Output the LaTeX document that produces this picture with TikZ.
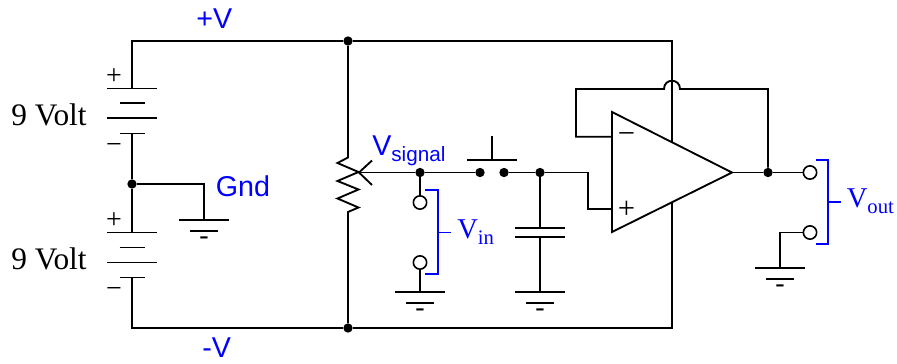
\documentclass[tikz,border=0pt]{standalone}
\usepackage{fontspec}
\setmainfont{Liberation Serif}
\newfontfamily\sansfam{Liberation Sans}
\usetikzlibrary{calc}
\definecolor{labelblue}{RGB}{0,0,255}
\newcommand{\lowtext}[1]{\raisebox{-5.2pt}{\fontsize{15.5}{15.5}\selectfont #1}}
\tikzset{
	wire/.style={draw, line width=1.4pt},
	bluewire/.style={draw=labelblue, line width=1.4pt},
	junction/.style={circle, fill=black, inner sep=0pt, minimum size=7pt},
	terminal/.style={circle, draw, line width=1.2pt, fill=white, inner sep=0pt, minimum size=10pt},
	polarity/.style={inner sep=0pt, font=\fontsize{21}{21}\selectfont},
	bluesans/.style={anchor=base west, inner sep=0pt, text=labelblue, font=\sansfam\fontsize{21.5}{21.5}\selectfont},
	blueserif/.style={anchor=base west, inner sep=0pt, text=labelblue, font=\fontsize{21.5}{21.5}\selectfont},
	voltlabel/.style={anchor=base, inner sep=0pt, font=\fontsize{23.5}{23.5}\selectfont}
}

\begin{document}
\begin{tikzpicture}[x=0.75pt, y=-0.75pt]
		\useasboundingbox (0,0) rectangle (897,364);
		% junctions and terminals
		\node[junction] (topJ) at (348,41) {};
		\node[junction] (botJ) at (348,328) {};
		\node[junction] (midJ) at (132,184) {};
		\node[junction] (wipJ) at (420,172.5) {};
		\node[junction] (swL) at (480,172.5) {};
		\node[junction] (swR) at (504,172.5) {};
		\node[junction] (capJ) at (540,172.5) {};
		\node[junction] (outJ) at (768,172.5) {};
		\node[terminal] (inA) at (420,202.5) {};
		\node[terminal] (inB) at (420,262.5) {};
		\node[terminal] (outA) at (810,172.5) {};
		\node[terminal] (outB) at (810,232.5) {};
		% grounds
		\foreach \n/\x/\y in {1/204/220, 2/420/292, 3/540/292, 4/780/268}{
			\coordinate (gnd\n) at (\x,\y);
			\draw[wire] (\x-25,\y) -- (\x+25,\y);
			\draw[wire] (\x-14,\y+11) -- (\x+14,\y+11);
			\node[polarity] (mark\n) at (\x,\y+21) {-};
		}
		% batteries
		\foreach \y/\w in {88.5/25, 103/12.5, 118/25, 133.5/12.5, 232.5/25, 247.5/12.5, 262.5/25, 277.5/12.5}{
			\draw[wire] (132-\w,\y) -- (132+\w,\y);
		}
		\coordinate (batAtop) at (132,88.5);
		\coordinate (batAbot) at (132,133.5);
		\coordinate (batBtop) at (132,232.5);
		\coordinate (batBbot) at (132,277.5);
		\node[polarity] (plusA) at (114,77) {+};
		\node[polarity] (minusA) at (114,148.5) {−};
		\node[polarity] (plusB) at (114,220.5) {+};
		\node[polarity] (minusB) at (114,292.5) {−};
		% supply rails
		\coordinate (railEndTop) at (672,41);
		\coordinate (railEndBot) at (672,328);
		\coordinate (opTop) at (672,142);
		\coordinate (opBot) at (672,202);
		\draw[wire] (batAtop) |- (topJ) -- (railEndTop) -- (opTop);
		\draw[wire] (batBbot) |- (botJ) -- (railEndBot) -- (opBot);
		\draw[wire] (batAbot) -- (midJ) -- (batBtop);
		\draw[wire] (midJ) -| (gnd1);
		% potentiometer
		\coordinate (potTop) at (348,157.5);
		\coordinate (potBot) at (348,212);
		\coordinate (wiper) at (359,172.5);
		\draw[wire] (topJ) -- (potTop) -- (337.5,163) -- (358.5,172) -- (337.5,181) -- (358.5,189.5) -- (337.5,198.5) -- (358.5,207.5) -- (potBot) -- (botJ);
		\draw[wire] (372,160.5) -- (wiper) -- (372,185);
		\draw[wire] (wiper) -- (wipJ) -- (swL);
		\draw[wire] (wipJ) -- (inA);
		\draw[wire] (inB) -- (gnd2);
		% push button
		\draw[wire] (467,160.3) -- (516.5,160.3);
		\draw[wire] (492,136) -- (492,160.3);
		% capacitor
		\coordinate (capTop) at (540,227.7);
		\coordinate (capBot) at (540,237.3);
		\draw[wire] (515,227.7) -- (565,227.7);
		\draw[wire] (515,237.3) -- (565,237.3);
		\draw[wire] (swR) -- (capJ) -- (capTop);
		\draw[wire] (capBot) -- (gnd3);
		% op amp
		\coordinate (opA) at (612,112);
		\coordinate (opB) at (612,232);
		\coordinate (opC) at (732,172.5);
		\coordinate (opMinus) at (612,136.7);
		\coordinate (opPlus) at (612,209);
		\coordinate (hopL) at (664,89);
		\coordinate (hopR) at (680,89);
		\draw[wire] (opA) -- (opC) -- (opB) -- cycle;
		\draw[wire] (capJ) -- (588,172.5) |- (opPlus);
		\draw[wire] (opMinus) -- (576,136.7) |- (hopL) .. controls (664,78) and (680,78) .. (hopR) -| (outJ);
		\draw[wire] (opC) -- (outJ) -- (outA);
		\draw[wire] (outB) -| (gnd4);
		\node[polarity, font=\fontsize{23}{23}\selectfont] (opMinusSign) at (626.5,138) {−};
		\node[polarity, font=\fontsize{23}{23}\selectfont] (opPlusSign) at (626.5,210) {+};
		% brackets
		\draw[bluewire] (425,190) -- (438,190) -- (438,274) -- (425,274);
		\draw[bluewire] (438,232.5) -- (451,232.5);
		\draw[bluewire] (815.5,160) -- (828,160) -- (828,244) -- (815.5,244);
		\draw[bluewire] (828,202.3) -- (841,202.3);
		% labels
		\node[voltlabel] (voltA) at (49,125) {9 Volt};
		\node[voltlabel] (voltB) at (49,269) {9 Volt};
		\node[bluesans] (plusV) at (196,28.3) {+V};
		\node[bluesans] (minusV) at (202,357) {-V};
		\node[bluesans] (gndLabel) at (215.5,196.7) {Gnd};
		\node[bluesans] (vsignal) at (372,155) {V\lowtext{signal}};
		\node[blueserif] (vin) at (457,238) {V\lowtext{in}};
		\node[blueserif] (vout) at (846.5,207) {V\lowtext{out}};
	\end{tikzpicture}
\end{document}
